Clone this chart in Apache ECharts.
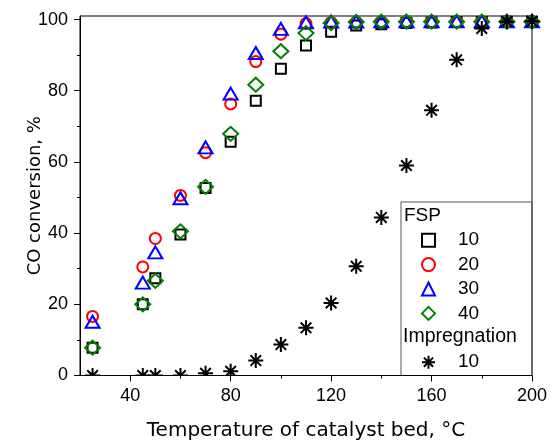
<!DOCTYPE html>
<html><head><meta charset="utf-8">
<script src="https://cdn.jsdelivr.net/npm/echarts@6/dist/echarts.min.js"></script>
<style>html,body{margin:0;padding:0;background:#fff}#c{width:552px;height:441px}</style>
</head><body><div id="c"></div>
<script>
// ---- data ----
const temperatures = [25, 45, 50, 60, 70, 80, 90, 100, 110, 120, 130, 140, 150, 160, 170, 180, 190, 200];
const fsp10 = [7.8, 20.0, 27.3, 39.6, 52.7, 65.7, 77.2, 86.2, 92.7, 96.6, 98.3, 98.7, 99.0, 99.2, 99.3, 99.3, 99.4, 99.4];
const fsp20 = [16.6, 30.5, 38.5, 50.6, 62.6, 76.3, 88.2, 95.9, 98.9, 99.2, 99.3, 99.4, 99.4, 99.4, 99.4, 99.5, 99.5, 99.5];
const fsp30 = [15.1, 26.1, 34.6, 49.8, 64.1, 79.2, 90.6, 97.4, 99.2, 99.4, 99.4, 99.5, 99.5, 99.5, 99.5, 99.5, 99.5, 99.5];
const fsp40 = [7.8, 20.0, 26.6, 40.5, 53.0, 67.9, 81.7, 91.1, 96.2, 99.0, 99.3, 99.4, 99.4, 99.4, 99.4, 99.4, 99.4, 99.4];
const imp10 = [0, 0, 0, 0, 0.6, 1.2, 4.2, 8.7, 13.4, 20.4, 30.7, 44.4, 59.0, 74.5, 88.7, 97.5, 99.4, 99.5];
const xTickLabels = [40, 80, 120, 160, 200];
const xMinorTicks = [60, 100, 140, 180];
const yTickLabels = [0, 20, 40, 60, 80, 100];
const yMinorTicks = [10, 30, 50, 70, 90];
const seriesNames = ['FSP 10', 'FSP 20', 'FSP 30', 'FSP 40', 'Impregnation 10'];
const legendGroups = ['FSP', 'Impregnation'];

// ---- layout ----
const W = 552, H = 441;
const G = { left: 80, right: 20, top: 16, bottom: 65.5 };
const FONT = 'Liberation Sans';
const TFONT = 'DejaVu Sans';
const starPath = 'path://M0,-10L0,10M-10,0L10,0M-7.07,-7.07L7.07,7.07M-7.07,7.07L7.07,-7.07';

function pairs(vals) { return temperatures.map((t, i) => [t, vals[i]]); }

const styles = [
  { symbol: 'rect', size: 10, color: '#000000' },
  { symbol: 'circle', size: 11, color: '#ff0000' },
  { symbol: 'triangle', size: [14, 12], color: '#0000ff' },
  { symbol: 'diamond', size: [15, 14], color: '#008000' },
  { symbol: starPath, size: 15, color: '#000000' }
];
const allVals = [fsp10, fsp20, fsp30, fsp40, imp10];

const series = allVals.map((v, i) => ({
  name: seriesNames[i],
  type: 'scatter',
  data: pairs(v),
  symbol: styles[i].symbol,
  symbolSize: styles[i].size,
  itemStyle: { color: 'none', borderColor: styles[i].color, borderWidth: 2, opacity: 1 },
  emphasis: { disabled: true },
  clip: false,
  z: 2 + i * 0.01
}));

const axisCommon = {
  axisLine: { show: true, onZero: false, lineStyle: { color: '#000', width: 1 } },
  splitLine: { show: false },
  nameMoveOverlap: false,
  z: 5
};

function legendFor(names, top) {
  return {
    data: names.map(n => {
      const s = styles[seriesNames.indexOf(n)];
      return { name: n, itemStyle: { color: 'none', borderColor: s.color, borderWidth: 2, opacity: 1 } };
    }),
    orient: 'vertical', left: 419.5, top: top,
    itemWidth: 13, itemHeight: 13, itemGap: 0, padding: 0,
    formatter: n => n.split(' ')[1],
    textStyle: { fontFamily: FONT, fontSize: 19, color: '#000', lineHeight: 24.4, padding: [0, 0, 0, 18] },
    selectedMode: false
  };
}

const chart = echarts.init(document.getElementById('c'), null, { renderer: 'canvas', width: W, height: H });
chart.setOption({
  animation: false,
  backgroundColor: '#fff',
  grid: { left: G.left, right: G.right, top: G.top, bottom: G.bottom, outerBoundsMode: 'none', containLabel: false, show: true, borderColor: '#000', borderWidth: 1, backgroundColor: 'transparent' },
  xAxis: [
    Object.assign({}, axisCommon, {
      type: 'value', min: 20, max: 200, position: 'bottom',
      name: 'Temperature of catalyst bed, °C', nameLocation: 'middle', nameGap: 45,
      nameTextStyle: { fontFamily: TFONT, fontSize: 20, color: '#000' },
      axisTick: { show: true, inside: false, length: 6, customValues: xTickLabels, lineStyle: { color: '#000' } },
      axisLabel: { show: true, customValues: xTickLabels, margin: 12, fontFamily: FONT, fontSize: 18, color: '#000' }
    }),
    Object.assign({}, axisCommon, {
      type: 'value', min: 20, max: 200, position: 'bottom',
      axisLine: { show: false },
      axisTick: { show: true, inside: false, length: 3, customValues: xMinorTicks, lineStyle: { color: '#000' } },
      axisLabel: { show: false }
    })
  ],
  yAxis: [
    Object.assign({}, axisCommon, {
      type: 'value', min: 0, max: 101, position: 'left',
      name: 'CO conversion, %', nameLocation: 'middle', nameGap: 36,
      nameTextStyle: { fontFamily: TFONT, fontSize: 18, color: '#000' },
      axisTick: { show: true, inside: false, length: 6, customValues: yTickLabels, lineStyle: { color: '#000' } },
      axisLabel: { show: true, customValues: yTickLabels, margin: 12, fontFamily: FONT, fontSize: 18, color: '#000' }
    }),
    Object.assign({}, axisCommon, {
      type: 'value', min: 0, max: 101, position: 'left',
      axisLine: { show: false },
      axisTick: { show: true, inside: false, length: 3, customValues: yMinorTicks, lineStyle: { color: '#000' } },
      axisLabel: { show: false }
    })
  ],
  legend: [legendFor(seriesNames.slice(0, 4), 228), legendFor(seriesNames.slice(4), 350)],
  graphic: [
    { type: 'rect', z: 3, silent: true, shape: { x: 0, y: H - G.bottom + 0.5, width: W, height: G.bottom }, style: { fill: '#fff' } },
    { type: 'rect', z: 4, silent: true, shape: { x: 401, y: 202, width: W - G.right - 401, height: H - G.bottom - 202 }, style: { fill: 'none', stroke: '#555', lineWidth: 1 } },
    { type: 'text', z: 4, left: 404, top: 206, style: { text: legendGroups[0], font: '19px "' + FONT + '"', fill: '#000' } },
    { type: 'text', z: 4, left: 403, top: 327, style: { text: legendGroups[1], font: '19.5px "' + FONT + '"', fill: '#000' } }
  ],
  series: series
});
</script>
</body></html>
